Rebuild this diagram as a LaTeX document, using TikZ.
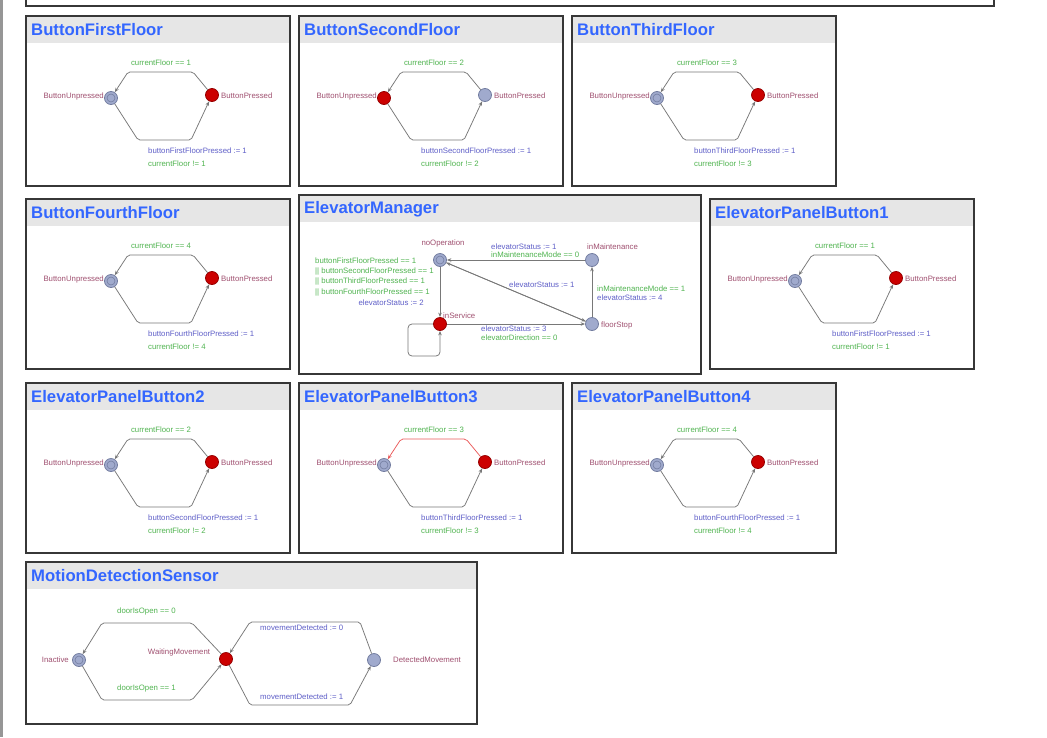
\documentclass[tikz,border=0pt]{standalone}
\usepackage{fontspec}
\setmainfont{Liberation Sans}
\usetikzlibrary{arrows.meta}
\definecolor{ttl}{RGB}{51,102,255}
\definecolor{hdrgray}{RGB}{230,230,230}
\definecolor{boxc}{RGB}{55,55,55}
\definecolor{locname}{RGB}{160,80,112}
\definecolor{guardc}{RGB}{80,180,80}
\definecolor{updc}{RGB}{95,95,200}
\definecolor{edgec}{RGB}{120,120,120}
\definecolor{bluefill}{RGB}{160,170,205}
\definecolor{bluedraw}{RGB}{115,125,160}
\definecolor{redfill}{RGB}{204,0,0}
\definecolor{reddraw}{RGB}{150,0,0}
\definecolor{hiedge}{RGB}{235,90,90}
\definecolor{sidebar}{RGB}{150,150,150}
\tikzset{
  panelbox/.style={draw=boxc,line width=1.5pt},
  hdr/.style={fill=hdrgray},
  ptitle/.style={anchor=west,inner sep=0,text=ttl,font=\fontsize{16.7}{18}\selectfont\bfseries},
  loc/.style={circle,minimum size=13pt,inner sep=0,line width=0.8pt},
  bluel/.style={fill=bluefill,draw=bluedraw},
  redl/.style={fill=redfill,draw=reddraw},
  initl/.style={bluel,path picture={\draw[bluedraw,line width=0.6pt] (path picture bounding box.center) circle (4pt);}},
  small/.style={inner sep=0,font=\fontsize{7.8}{8}\selectfont},
  lname/.style={small,text=locname},
  guard/.style={small,text=guardc},
  upd/.style={small,text=updc},
  edge/.style={draw=edgec,line width=0.75pt,-{Stealth[length=4.5pt,width=3.5pt]},rounded corners=2pt},
  plain/.style={}
}
\newcommand{\btnpanel}[9]{%
\begin{scope}[shift={(#2,#3)}]
  \path[hdr] (0,0) rectangle (264,27);
  \node[ptitle] (#1title) at (5,14) {#4};
  \path[panelbox] (0,0) rectangle (264,170);
  \node[loc,#7] (#1u) at (85,82) {};
  \node[loc,#8] (#1p) at (186,79) {};
  \node[lname,anchor=east] (#1ul) at (78,80) {ButtonUnpressed};
  \node[lname,anchor=west] (#1pl) at (195,80) {ButtonPressed};
  \draw[edge,#9] (#1p) -- (167,56) -- (102,56) -- (#1u);
  \draw[edge] (#1u) -- (112,124) -- (165,124) -- (#1p);
  \node[guard] (#1g) at (135,47) {currentFloor == #5};
  \node[upd,anchor=west] (#1a) at (122,135) {button#6FloorPressed := 1};
  \node[guard,anchor=west] (#1b) at (122,148) {currentFloor != #5};
\end{scope}}
\begin{document}
\begin{tikzpicture}[x=1pt,y=-1pt]
\useasboundingbox (0,0) rectangle (1047,737);
\fill[white] (0,0) rectangle (1047,737);
\fill[sidebar] (0,0) rectangle (3,737);
\draw[panelbox] (26,-10) rectangle (994,6);

\btnpanel{a}{26}{16}{ButtonFirstFloor}{1}{First}{initl}{redl}{plain}
\btnpanel{b}{299}{16}{ButtonSecondFloor}{2}{Second}{redl}{bluel}{plain}
\btnpanel{c}{572}{16}{ButtonThirdFloor}{3}{Third}{initl}{redl}{plain}
\btnpanel{d}{26}{199}{ButtonFourthFloor}{4}{Fourth}{initl}{redl}{plain}
\btnpanel{e}{710}{199}{ElevatorPanelButton1}{1}{First}{initl}{redl}{plain}
\btnpanel{f}{26}{383}{ElevatorPanelButton2}{2}{Second}{initl}{redl}{plain}
\btnpanel{g}{299}{383}{ElevatorPanelButton3}{3}{Third}{initl}{redl}{draw=hiedge}
\btnpanel{h}{572}{383}{ElevatorPanelButton4}{4}{Fourth}{initl}{redl}{plain}

% ElevatorManager
\path[hdr] (299,195) rectangle (701,222);
\node[ptitle] (emtitle) at (304,209) {ElevatorManager};
\path[panelbox] (299,195) rectangle (701,374);
\node[loc,initl] (nO) at (440,260) {};
\node[loc,bluel] (iM) at (592,260) {};
\node[loc,redl] (iS) at (440,324) {};
\node[loc,bluel] (fS) at (592,324) {};
\node[lname] (nOl) at (443,243) {noOperation};
\node[lname,anchor=west] (iMl) at (587,247) {inMaintenance};
\node[lname,anchor=west] (iSl) at (443,316) {inService};
\node[lname,anchor=west] (fSl) at (601,325) {floorStop};
\draw[edge] (iM) -- (nO);
\draw[edge] (fS) -- (iM);
\draw[edge] (fS) -- (nO);
\draw[edge] (nO) -- (fS);
\draw[edge] (nO) -- (iS);
\draw[edge] (iS) -- (fS);
\draw[edge,rounded corners=4pt] (iS.west) -- (408,324) -- (408,356) -- (440,356) -- (iS.south);
\node[upd,anchor=west] (e1a) at (491,247) {elevatorStatus := 1};
\node[guard,anchor=west] (e1b) at (491,255) {inMaintenanceMode == 0};
\node[upd,anchor=west] (e2a) at (509,285) {elevatorStatus := 1};
\node[guard,anchor=west] (e3a) at (597,289) {inMaintenanceMode == 1};
\node[upd,anchor=west] (e3b) at (597,298) {elevatorStatus := 4};
\node[guard,anchor=west] (e4a) at (315,261) {buttonFirstFloorPressed == 1};
\node[guard,anchor=west] (e4b) at (315,271) {|| buttonSecondFloorPressed == 1};
\node[guard,anchor=west] (e4c) at (315,281) {|| buttonThirdFloorPressed == 1};
\node[guard,anchor=west] (e4d) at (315,292) {|| buttonFourthFloorPressed == 1};
\node[upd,anchor=east] (e4e) at (424,303) {elevatorStatus := 2};
\node[upd,anchor=west] (e5a) at (481,329) {elevatorStatus := 3};
\node[guard,anchor=west] (e5b) at (481,338) {elevatorDirection == 0};

% MotionDetectionSensor
\path[hdr] (26,562) rectangle (477,589);
\node[ptitle] (mdtitle) at (31,576) {MotionDetectionSensor};
\path[panelbox] (26,562) rectangle (477,724);
\node[loc,initl] (In) at (79,660) {};
\node[loc,redl] (Wa) at (226,659) {};
\node[loc,bluel] (De) at (374,660) {};
\node[lname,anchor=east] (Inl) at (69,660) {Inactive};
\node[lname] (Wal) at (179,652) {WaitingMovement};
\node[lname,anchor=west] (Del) at (393,660) {DetectedMovement};
\draw[edge] (Wa) -- (192,623) -- (102,623) -- (In);
\draw[edge] (In) -- (102,700) -- (192,700) -- (Wa);
\draw[edge] (De) -- (360,622) -- (250,622) -- (Wa);
\draw[edge] (Wa) -- (250,705) -- (350,705) -- (De);
\node[guard,anchor=west] (m1) at (117,611) {doorIsOpen == 0};
\node[guard,anchor=west] (m2) at (117,688) {doorIsOpen == 1};
\node[upd,anchor=west] (m3) at (260,628) {movementDetected := 0};
\node[upd,anchor=west] (m4) at (260,697) {movementDetected := 1};
\end{tikzpicture}
\end{document}
